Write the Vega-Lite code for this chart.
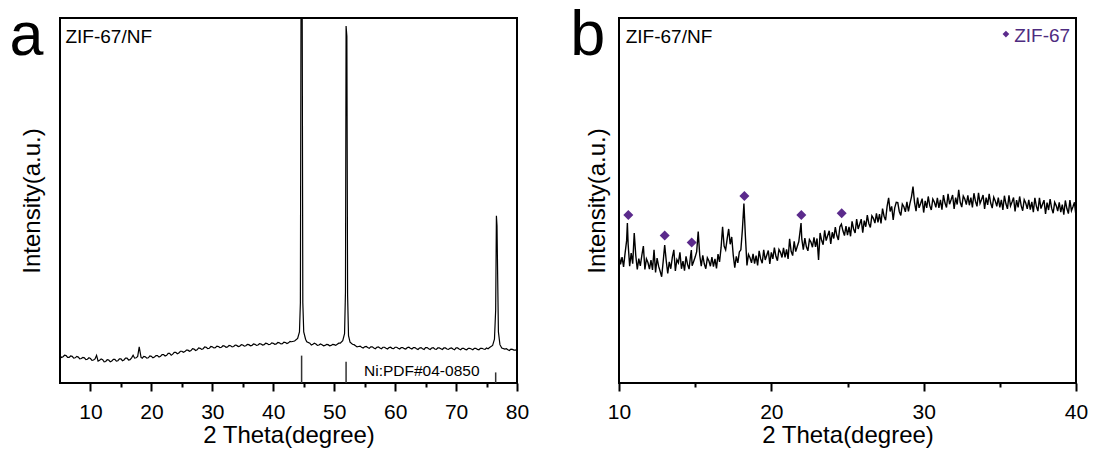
{
  "$schema": "https://vega.github.io/schema/vega-lite/v6.json",
  "background": "white",
  "padding": {"left": 8, "top": 3, "right": 5, "bottom": 5},
  "config": {
    "font": "Liberation Sans",
    "view": {"stroke": "black", "strokeWidth": 2},
    "axis": {"grid": false, "domain": false, "labelColor": "black", "titleColor": "black", "tickColor": "black", "titleFontWeight": "normal", "labelFlush": false, "labelOverlap": false}
  },
  "bounds": "flush",
  "spacing": 102,
  "datasets": {
    "xrdA": [
      {"theta": 5.0, "intensity": 7.4}, {"theta": 5.5, "intensity": 7.2}, {"theta": 6.0, "intensity": 7.5}, {"theta": 6.5, "intensity": 7.0},
      {"theta": 7.0, "intensity": 7.3}, {"theta": 7.5, "intensity": 6.9}, {"theta": 8.0, "intensity": 7.1}, {"theta": 8.5, "intensity": 6.7},
      {"theta": 9.0, "intensity": 6.9}, {"theta": 9.5, "intensity": 6.5}, {"theta": 10.0, "intensity": 6.7}, {"theta": 10.5, "intensity": 6.3},
      {"theta": 11.0, "intensity": 7.6}, {"theta": 11.5, "intensity": 6.2}, {"theta": 12.0, "intensity": 6.4}, {"theta": 12.5, "intensity": 5.9},
      {"theta": 13.0, "intensity": 6.3}, {"theta": 13.5, "intensity": 6.0}, {"theta": 14.0, "intensity": 6.5}, {"theta": 14.5, "intensity": 6.1},
      {"theta": 15.0, "intensity": 6.6}, {"theta": 15.5, "intensity": 6.3}, {"theta": 16.0, "intensity": 6.8}, {"theta": 16.5, "intensity": 6.4},
      {"theta": 17.0, "intensity": 7.6}, {"theta": 17.5, "intensity": 6.9}, {"theta": 18.0, "intensity": 9.9}, {"theta": 18.3, "intensity": 7.0},
      {"theta": 18.5, "intensity": 6.8}, {"theta": 19.0, "intensity": 7.2}, {"theta": 19.5, "intensity": 6.9}, {"theta": 20.0, "intensity": 7.3},
      {"theta": 20.5, "intensity": 7.1}, {"theta": 21.0, "intensity": 7.5}, {"theta": 21.5, "intensity": 7.3}, {"theta": 22.0, "intensity": 7.8},
      {"theta": 22.5, "intensity": 7.6}, {"theta": 23.0, "intensity": 8.1}, {"theta": 23.5, "intensity": 7.9}, {"theta": 24.0, "intensity": 8.4},
      {"theta": 24.5, "intensity": 8.2}, {"theta": 25.0, "intensity": 8.7}, {"theta": 25.5, "intensity": 8.6}, {"theta": 26.0, "intensity": 9.0},
      {"theta": 26.5, "intensity": 8.9}, {"theta": 27.0, "intensity": 9.3}, {"theta": 27.5, "intensity": 9.1}, {"theta": 28.0, "intensity": 9.5},
      {"theta": 28.5, "intensity": 9.4}, {"theta": 29.0, "intensity": 9.8}, {"theta": 29.5, "intensity": 9.5}, {"theta": 30.0, "intensity": 9.9},
      {"theta": 30.5, "intensity": 9.7}, {"theta": 31.0, "intensity": 10.0}, {"theta": 31.5, "intensity": 9.8}, {"theta": 32.0, "intensity": 10.1},
      {"theta": 32.5, "intensity": 9.9}, {"theta": 33.0, "intensity": 10.2}, {"theta": 33.5, "intensity": 10.0}, {"theta": 34.0, "intensity": 10.3},
      {"theta": 34.5, "intensity": 10.1}, {"theta": 35.0, "intensity": 10.4}, {"theta": 35.5, "intensity": 10.2}, {"theta": 36.0, "intensity": 10.5},
      {"theta": 36.5, "intensity": 10.3}, {"theta": 37.0, "intensity": 10.6}, {"theta": 37.5, "intensity": 10.4}, {"theta": 38.0, "intensity": 10.7},
      {"theta": 38.5, "intensity": 10.5}, {"theta": 39.0, "intensity": 10.8}, {"theta": 39.5, "intensity": 10.6}, {"theta": 40.0, "intensity": 10.9},
      {"theta": 40.5, "intensity": 10.7}, {"theta": 41.0, "intensity": 11.0}, {"theta": 41.5, "intensity": 10.8}, {"theta": 42.0, "intensity": 11.1},
      {"theta": 42.5, "intensity": 11.0}, {"theta": 43.0, "intensity": 11.3}, {"theta": 43.5, "intensity": 11.5}, {"theta": 44.0, "intensity": 12.2},
      {"theta": 44.3, "intensity": 14.0}, {"theta": 44.45, "intensity": 22.0}, {"theta": 44.55, "intensity": 100}, {"theta": 44.75, "intensity": 100},
      {"theta": 44.85, "intensity": 22.0}, {"theta": 45.0, "intensity": 14.0}, {"theta": 45.3, "intensity": 12.0}, {"theta": 45.5, "intensity": 11.3},
      {"theta": 46.0, "intensity": 10.9}, {"theta": 46.5, "intensity": 10.6}, {"theta": 47.0, "intensity": 10.7}, {"theta": 47.5, "intensity": 10.4},
      {"theta": 48.0, "intensity": 10.5}, {"theta": 48.5, "intensity": 10.3}, {"theta": 49.0, "intensity": 10.5}, {"theta": 49.5, "intensity": 10.3},
      {"theta": 50.0, "intensity": 10.5}, {"theta": 50.5, "intensity": 10.6}, {"theta": 51.0, "intensity": 10.9}, {"theta": 51.4, "intensity": 11.6},
      {"theta": 51.7, "intensity": 13.5}, {"theta": 51.85, "intensity": 25.0}, {"theta": 51.95, "intensity": 97.8}, {"theta": 52.08, "intensity": 95.0},
      {"theta": 52.2, "intensity": 24.0}, {"theta": 52.35, "intensity": 13.0}, {"theta": 52.6, "intensity": 11.2}, {"theta": 53.0, "intensity": 10.6},
      {"theta": 53.5, "intensity": 10.2}, {"theta": 54.0, "intensity": 10.0}, {"theta": 54.5, "intensity": 9.8}, {"theta": 55.0, "intensity": 9.9},
      {"theta": 55.5, "intensity": 9.7}, {"theta": 56.0, "intensity": 9.9}, {"theta": 56.5, "intensity": 9.6}, {"theta": 57.0, "intensity": 9.8},
      {"theta": 57.5, "intensity": 9.6}, {"theta": 58.0, "intensity": 9.8}, {"theta": 58.5, "intensity": 9.5}, {"theta": 59.0, "intensity": 9.7},
      {"theta": 59.5, "intensity": 9.5}, {"theta": 60.0, "intensity": 9.8}, {"theta": 60.5, "intensity": 9.5}, {"theta": 61.0, "intensity": 9.7},
      {"theta": 61.5, "intensity": 9.4}, {"theta": 62.0, "intensity": 9.7}, {"theta": 62.5, "intensity": 9.5}, {"theta": 63.0, "intensity": 9.7},
      {"theta": 63.5, "intensity": 9.4}, {"theta": 64.0, "intensity": 9.6}, {"theta": 64.5, "intensity": 9.4}, {"theta": 65.0, "intensity": 9.7},
      {"theta": 65.5, "intensity": 9.4}, {"theta": 66.0, "intensity": 9.6}, {"theta": 66.5, "intensity": 9.3}, {"theta": 67.0, "intensity": 9.6},
      {"theta": 67.5, "intensity": 9.4}, {"theta": 68.0, "intensity": 9.6}, {"theta": 68.5, "intensity": 9.3}, {"theta": 69.0, "intensity": 9.5},
      {"theta": 69.5, "intensity": 9.3}, {"theta": 70.0, "intensity": 9.6}, {"theta": 70.5, "intensity": 9.3}, {"theta": 71.0, "intensity": 9.5},
      {"theta": 71.5, "intensity": 9.2}, {"theta": 72.0, "intensity": 9.5}, {"theta": 72.5, "intensity": 9.3}, {"theta": 73.0, "intensity": 9.5},
      {"theta": 73.5, "intensity": 9.2}, {"theta": 74.0, "intensity": 9.5}, {"theta": 74.5, "intensity": 9.3}, {"theta": 75.0, "intensity": 9.6},
      {"theta": 75.5, "intensity": 9.7}, {"theta": 76.0, "intensity": 10.3}, {"theta": 76.3, "intensity": 12.0}, {"theta": 76.5, "intensity": 20.0},
      {"theta": 76.62, "intensity": 45.8}, {"theta": 76.72, "intensity": 43.0}, {"theta": 76.82, "intensity": 30.0}, {"theta": 76.95, "intensity": 14.0},
      {"theta": 77.2, "intensity": 10.5}, {"theta": 77.5, "intensity": 9.6}, {"theta": 78.0, "intensity": 9.3}, {"theta": 78.5, "intensity": 9.1},
      {"theta": 79.0, "intensity": 9.3}, {"theta": 79.5, "intensity": 9.0}, {"theta": 80.0, "intensity": 9.2},
      {"theta": 5.25, "intensity": 7.0}, {"theta": 5.75, "intensity": 7.6}, {"theta": 6.25, "intensity": 7.0}, {"theta": 6.75, "intensity": 7.4},
      {"theta": 7.25, "intensity": 6.8}, {"theta": 7.75, "intensity": 7.3}, {"theta": 8.25, "intensity": 6.6}, {"theta": 8.75, "intensity": 7.0},
      {"theta": 9.25, "intensity": 6.4}, {"theta": 9.75, "intensity": 6.9}, {"theta": 10.25, "intensity": 6.2}, {"theta": 10.75, "intensity": 6.6},
      {"theta": 11.25, "intensity": 6.0}, {"theta": 11.75, "intensity": 6.6}, {"theta": 12.25, "intensity": 5.8}, {"theta": 12.75, "intensity": 6.4},
      {"theta": 13.25, "intensity": 5.8}, {"theta": 13.75, "intensity": 6.5}, {"theta": 14.25, "intensity": 6.0}, {"theta": 14.75, "intensity": 6.6},
      {"theta": 15.25, "intensity": 6.1}, {"theta": 15.75, "intensity": 6.8}, {"theta": 16.25, "intensity": 6.3}, {"theta": 16.75, "intensity": 6.9},
      {"theta": 17.25, "intensity": 6.8}, {"theta": 17.75, "intensity": 7.3}, {"theta": 18.75, "intensity": 7.3}, {"theta": 19.25, "intensity": 6.8},
      {"theta": 19.75, "intensity": 7.4}, {"theta": 20.25, "intensity": 6.9}, {"theta": 20.75, "intensity": 7.5}, {"theta": 21.25, "intensity": 7.1},
      {"theta": 21.75, "intensity": 7.8}, {"theta": 22.25, "intensity": 7.4}, {"theta": 22.75, "intensity": 8.1}, {"theta": 23.25, "intensity": 7.6},
      {"theta": 23.75, "intensity": 8.4}, {"theta": 24.25, "intensity": 8.0}, {"theta": 24.75, "intensity": 8.7}, {"theta": 25.25, "intensity": 8.4},
      {"theta": 25.75, "intensity": 9.0}, {"theta": 26.25, "intensity": 8.7}, {"theta": 26.75, "intensity": 9.4}, {"theta": 27.25, "intensity": 8.9},
      {"theta": 27.75, "intensity": 9.6}, {"theta": 28.25, "intensity": 9.2}, {"theta": 28.75, "intensity": 9.9}, {"theta": 29.25, "intensity": 9.4},
      {"theta": 29.75, "intensity": 10.0}, {"theta": 30.25, "intensity": 9.6}, {"theta": 30.75, "intensity": 10.1}, {"theta": 31.25, "intensity": 9.7},
      {"theta": 31.75, "intensity": 10.2}, {"theta": 32.25, "intensity": 9.8}, {"theta": 32.75, "intensity": 10.3}, {"theta": 33.25, "intensity": 9.9},
      {"theta": 33.75, "intensity": 10.4}, {"theta": 34.25, "intensity": 10.0}, {"theta": 34.75, "intensity": 10.5}, {"theta": 35.25, "intensity": 10.1},
      {"theta": 35.75, "intensity": 10.6}, {"theta": 36.25, "intensity": 10.2}, {"theta": 36.75, "intensity": 10.7}, {"theta": 37.25, "intensity": 10.3},
      {"theta": 37.75, "intensity": 10.8}, {"theta": 38.25, "intensity": 10.4}, {"theta": 38.75, "intensity": 10.9}, {"theta": 39.25, "intensity": 10.5},
      {"theta": 39.75, "intensity": 11.0}, {"theta": 40.25, "intensity": 10.6}, {"theta": 40.75, "intensity": 11.1}, {"theta": 41.25, "intensity": 10.7},
      {"theta": 41.75, "intensity": 11.2}, {"theta": 42.25, "intensity": 10.8}, {"theta": 42.75, "intensity": 11.4},
      {"theta": 46.25, "intensity": 10.4}, {"theta": 46.75, "intensity": 10.9}, {"theta": 47.25, "intensity": 10.3}, {"theta": 47.75, "intensity": 10.7},
      {"theta": 48.25, "intensity": 10.2}, {"theta": 48.75, "intensity": 10.6}, {"theta": 49.25, "intensity": 10.2}, {"theta": 49.75, "intensity": 10.6},
      {"theta": 50.25, "intensity": 10.3}, {"theta": 50.75, "intensity": 10.9},
      {"theta": 53.25, "intensity": 10.5}, {"theta": 53.75, "intensity": 9.9}, {"theta": 54.25, "intensity": 10.1}, {"theta": 54.75, "intensity": 9.6},
      {"theta": 55.25, "intensity": 10.0}, {"theta": 55.75, "intensity": 9.5}, {"theta": 56.25, "intensity": 9.9}, {"theta": 56.75, "intensity": 9.4},
      {"theta": 57.25, "intensity": 9.9}, {"theta": 57.75, "intensity": 9.4}, {"theta": 58.25, "intensity": 9.8}, {"theta": 58.75, "intensity": 9.3},
      {"theta": 59.25, "intensity": 9.8}, {"theta": 59.75, "intensity": 9.4}, {"theta": 60.25, "intensity": 9.8}, {"theta": 60.75, "intensity": 9.3},
      {"theta": 61.25, "intensity": 9.7}, {"theta": 61.75, "intensity": 9.3}, {"theta": 62.25, "intensity": 9.8}, {"theta": 62.75, "intensity": 9.3},
      {"theta": 63.25, "intensity": 9.7}, {"theta": 63.75, "intensity": 9.2}, {"theta": 64.25, "intensity": 9.7}, {"theta": 64.75, "intensity": 9.2},
      {"theta": 65.25, "intensity": 9.7}, {"theta": 65.75, "intensity": 9.2}, {"theta": 66.25, "intensity": 9.7}, {"theta": 66.75, "intensity": 9.2},
      {"theta": 67.25, "intensity": 9.6}, {"theta": 67.75, "intensity": 9.2}, {"theta": 68.25, "intensity": 9.6}, {"theta": 68.75, "intensity": 9.2},
      {"theta": 69.25, "intensity": 9.6}, {"theta": 69.75, "intensity": 9.1}, {"theta": 70.25, "intensity": 9.6}, {"theta": 70.75, "intensity": 9.1},
      {"theta": 71.25, "intensity": 9.5}, {"theta": 71.75, "intensity": 9.1}, {"theta": 72.25, "intensity": 9.5}, {"theta": 72.75, "intensity": 9.1},
      {"theta": 73.25, "intensity": 9.5}, {"theta": 73.75, "intensity": 9.1}, {"theta": 74.25, "intensity": 9.5}, {"theta": 74.75, "intensity": 9.2},
      {"theta": 75.25, "intensity": 9.4},
      {"theta": 78.25, "intensity": 9.4}, {"theta": 78.75, "intensity": 8.9}, {"theta": 79.25, "intensity": 9.2}, {"theta": 79.75, "intensity": 9.0}
    ],
    "niRef": [
      {"theta": 44.65, "intensity": 7.5},
      {"theta": 51.95, "intensity": 5.8},
      {"theta": 76.5, "intensity": 2.9}
    ],
    "xrdB": [
      {"theta": 10.0, "intensity": 35.2}, {"theta": 10.1, "intensity": 32.5}, {"theta": 10.2, "intensity": 34.5}, {"theta": 10.3, "intensity": 31.8},
      {"theta": 10.4, "intensity": 35.6}, {"theta": 10.5, "intensity": 39.0}, {"theta": 10.55, "intensity": 43.8}, {"theta": 10.6, "intensity": 38.0},
      {"theta": 10.7, "intensity": 32.0}, {"theta": 10.8, "intensity": 35.6}, {"theta": 10.9, "intensity": 32.7}, {"theta": 11.0, "intensity": 41.1},
      {"theta": 11.1, "intensity": 35.0}, {"theta": 11.2, "intensity": 31.1}, {"theta": 11.3, "intensity": 34.1}, {"theta": 11.4, "intensity": 32.1},
      {"theta": 11.5, "intensity": 35.0}, {"theta": 11.6, "intensity": 37.5}, {"theta": 11.7, "intensity": 31.1}, {"theta": 11.8, "intensity": 34.0},
      {"theta": 11.9, "intensity": 33.0}, {"theta": 12.0, "intensity": 31.2}, {"theta": 12.1, "intensity": 33.7}, {"theta": 12.2, "intensity": 31.0},
      {"theta": 12.3, "intensity": 36.5}, {"theta": 12.4, "intensity": 30.3}, {"theta": 12.5, "intensity": 34.2}, {"theta": 12.6, "intensity": 32.0},
      {"theta": 12.7, "intensity": 30.6}, {"theta": 12.8, "intensity": 29.1}, {"theta": 12.9, "intensity": 33.3}, {"theta": 13.0, "intensity": 37.8},
      {"theta": 13.1, "intensity": 33.5}, {"theta": 13.2, "intensity": 30.0}, {"theta": 13.3, "intensity": 33.2}, {"theta": 13.4, "intensity": 31.3},
      {"theta": 13.5, "intensity": 34.4}, {"theta": 13.6, "intensity": 36.5}, {"theta": 13.7, "intensity": 30.7}, {"theta": 13.8, "intensity": 33.8},
      {"theta": 13.9, "intensity": 32.9}, {"theta": 14.0, "intensity": 35.8}, {"theta": 14.1, "intensity": 31.3}, {"theta": 14.2, "intensity": 33.4},
      {"theta": 14.3, "intensity": 30.8}, {"theta": 14.4, "intensity": 34.7}, {"theta": 14.5, "intensity": 32.5}, {"theta": 14.6, "intensity": 31.2},
      {"theta": 14.7, "intensity": 35.0}, {"theta": 14.75, "intensity": 36.4}, {"theta": 14.8, "intensity": 32.1}, {"theta": 14.9, "intensity": 33.3},
      {"theta": 15.0, "intensity": 34.5}, {"theta": 15.1, "intensity": 36.0}, {"theta": 15.2, "intensity": 41.5}, {"theta": 15.3, "intensity": 35.0},
      {"theta": 15.4, "intensity": 32.0}, {"theta": 15.5, "intensity": 35.0}, {"theta": 15.6, "intensity": 32.6}, {"theta": 15.7, "intensity": 31.3},
      {"theta": 15.8, "intensity": 34.3}, {"theta": 15.9, "intensity": 33.5}, {"theta": 16.0, "intensity": 32.0}, {"theta": 16.1, "intensity": 34.5},
      {"theta": 16.2, "intensity": 31.9}, {"theta": 16.3, "intensity": 34.0}, {"theta": 16.4, "intensity": 31.4}, {"theta": 16.5, "intensity": 35.3},
      {"theta": 16.6, "intensity": 33.2}, {"theta": 16.7, "intensity": 37.0}, {"theta": 16.8, "intensity": 42.8}, {"theta": 16.9, "intensity": 37.5},
      {"theta": 17.0, "intensity": 36.5}, {"theta": 17.1, "intensity": 39.5}, {"theta": 17.2, "intensity": 42.2}, {"theta": 17.3, "intensity": 38.0},
      {"theta": 17.4, "intensity": 40.0}, {"theta": 17.5, "intensity": 35.0}, {"theta": 17.6, "intensity": 31.6}, {"theta": 17.7, "intensity": 34.7},
      {"theta": 17.8, "intensity": 32.9}, {"theta": 17.9, "intensity": 35.9}, {"theta": 18.0, "intensity": 36.5}, {"theta": 18.1, "intensity": 42.0},
      {"theta": 18.2, "intensity": 49.2}, {"theta": 18.3, "intensity": 40.0}, {"theta": 18.4, "intensity": 32.2}, {"theta": 18.5, "intensity": 35.2},
      {"theta": 18.6, "intensity": 34.3}, {"theta": 18.7, "intensity": 32.9}, {"theta": 18.8, "intensity": 35.4}, {"theta": 18.9, "intensity": 32.7},
      {"theta": 19.0, "intensity": 34.9}, {"theta": 19.1, "intensity": 32.2}, {"theta": 19.2, "intensity": 36.2}, {"theta": 19.3, "intensity": 34.0},
      {"theta": 19.4, "intensity": 32.8}, {"theta": 19.5, "intensity": 36.5}, {"theta": 19.6, "intensity": 33.7}, {"theta": 19.7, "intensity": 35.0},
      {"theta": 19.8, "intensity": 36.3}, {"theta": 19.9, "intensity": 32.6}, {"theta": 20.0, "intensity": 35.8}, {"theta": 20.1, "intensity": 34.0},
      {"theta": 20.2, "intensity": 37.1}, {"theta": 20.3, "intensity": 34.7}, {"theta": 20.4, "intensity": 33.5}, {"theta": 20.5, "intensity": 36.6},
      {"theta": 20.6, "intensity": 35.8}, {"theta": 20.7, "intensity": 34.4}, {"theta": 20.8, "intensity": 37.0}, {"theta": 20.9, "intensity": 34.4},
      {"theta": 21.0, "intensity": 36.6}, {"theta": 21.1, "intensity": 34.0}, {"theta": 21.2, "intensity": 39.5}, {"theta": 21.3, "intensity": 36.1},
      {"theta": 21.4, "intensity": 34.9}, {"theta": 21.5, "intensity": 38.8}, {"theta": 21.6, "intensity": 36.0}, {"theta": 21.7, "intensity": 37.4},
      {"theta": 21.8, "intensity": 38.7}, {"theta": 21.9, "intensity": 42.0}, {"theta": 21.95, "intensity": 43.8}, {"theta": 22.0, "intensity": 39.5},
      {"theta": 22.1, "intensity": 36.5}, {"theta": 22.2, "intensity": 39.7}, {"theta": 22.3, "intensity": 37.3}, {"theta": 22.4, "intensity": 36.2},
      {"theta": 22.5, "intensity": 39.3}, {"theta": 22.6, "intensity": 38.6}, {"theta": 22.7, "intensity": 37.2}, {"theta": 22.8, "intensity": 39.9},
      {"theta": 22.9, "intensity": 37.3}, {"theta": 23.0, "intensity": 39.6}, {"theta": 23.1, "intensity": 33.7}, {"theta": 23.2, "intensity": 41.1},
      {"theta": 23.3, "intensity": 39.1}, {"theta": 23.4, "intensity": 37.9}, {"theta": 23.5, "intensity": 41.8}, {"theta": 23.6, "intensity": 39.0},
      {"theta": 23.7, "intensity": 40.4}, {"theta": 23.8, "intensity": 41.7}, {"theta": 23.9, "intensity": 38.1}, {"theta": 24.0, "intensity": 41.3},
      {"theta": 24.1, "intensity": 39.6}, {"theta": 24.2, "intensity": 42.7}, {"theta": 24.3, "intensity": 40.4}, {"theta": 24.4, "intensity": 39.2},
      {"theta": 24.5, "intensity": 42.8}, {"theta": 24.6, "intensity": 43.5}, {"theta": 24.7, "intensity": 41.7}, {"theta": 24.8, "intensity": 40.4},
      {"theta": 24.9, "intensity": 43.0}, {"theta": 25.0, "intensity": 40.5}, {"theta": 25.1, "intensity": 42.8}, {"theta": 25.2, "intensity": 40.2},
      {"theta": 25.3, "intensity": 44.3}, {"theta": 25.4, "intensity": 42.2}, {"theta": 25.5, "intensity": 41.1}, {"theta": 25.6, "intensity": 44.9},
      {"theta": 25.7, "intensity": 42.2}, {"theta": 25.8, "intensity": 43.5}, {"theta": 25.9, "intensity": 44.9}, {"theta": 26.0, "intensity": 41.2},
      {"theta": 26.1, "intensity": 44.5}, {"theta": 26.2, "intensity": 42.8}, {"theta": 26.3, "intensity": 46.0}, {"theta": 26.4, "intensity": 43.7},
      {"theta": 26.5, "intensity": 42.6}, {"theta": 26.6, "intensity": 45.8}, {"theta": 26.7, "intensity": 45.1}, {"theta": 26.8, "intensity": 43.8},
      {"theta": 26.9, "intensity": 46.5}, {"theta": 27.0, "intensity": 44.0}, {"theta": 27.1, "intensity": 46.3}, {"theta": 27.2, "intensity": 43.7},
      {"theta": 27.3, "intensity": 47.8}, {"theta": 27.4, "intensity": 45.7}, {"theta": 27.5, "intensity": 44.6}, {"theta": 27.6, "intensity": 48.4},
      {"theta": 27.7, "intensity": 50.7}, {"theta": 27.8, "intensity": 47.0}, {"theta": 27.9, "intensity": 48.4}, {"theta": 28.0, "intensity": 44.7},
      {"theta": 28.1, "intensity": 48.0}, {"theta": 28.2, "intensity": 49.5}, {"theta": 28.3, "intensity": 49.4}, {"theta": 28.4, "intensity": 47.0},
      {"theta": 28.5, "intensity": 45.9}, {"theta": 28.6, "intensity": 49.0}, {"theta": 28.7, "intensity": 48.3}, {"theta": 28.8, "intensity": 46.9},
      {"theta": 28.9, "intensity": 49.6}, {"theta": 29.0, "intensity": 47.0}, {"theta": 29.1, "intensity": 49.2}, {"theta": 29.2, "intensity": 51.0},
      {"theta": 29.3, "intensity": 53.8}, {"theta": 29.4, "intensity": 49.5}, {"theta": 29.5, "intensity": 47.1}, {"theta": 29.6, "intensity": 50.8},
      {"theta": 29.7, "intensity": 48.0}, {"theta": 29.8, "intensity": 49.2}, {"theta": 29.9, "intensity": 50.5}, {"theta": 30.0, "intensity": 46.7},
      {"theta": 30.1, "intensity": 49.9}, {"theta": 30.2, "intensity": 48.0}, {"theta": 30.3, "intensity": 51.1}, {"theta": 30.4, "intensity": 48.6},
      {"theta": 30.5, "intensity": 47.4}, {"theta": 30.6, "intensity": 50.4}, {"theta": 30.7, "intensity": 49.6}, {"theta": 30.8, "intensity": 48.1},
      {"theta": 30.9, "intensity": 50.7}, {"theta": 31.0, "intensity": 48.0}, {"theta": 31.1, "intensity": 50.2}, {"theta": 31.2, "intensity": 47.5},
      {"theta": 31.3, "intensity": 51.5}, {"theta": 31.4, "intensity": 49.3}, {"theta": 31.5, "intensity": 48.1}, {"theta": 31.6, "intensity": 51.8},
      {"theta": 31.7, "intensity": 49.0}, {"theta": 31.8, "intensity": 50.2}, {"theta": 31.9, "intensity": 51.5}, {"theta": 32.0, "intensity": 47.7},
      {"theta": 32.1, "intensity": 50.8}, {"theta": 32.2, "intensity": 48.9}, {"theta": 32.3, "intensity": 52.9}, {"theta": 32.4, "intensity": 49.5},
      {"theta": 32.5, "intensity": 48.2}, {"theta": 32.6, "intensity": 51.2}, {"theta": 32.7, "intensity": 50.4}, {"theta": 32.8, "intensity": 48.9},
      {"theta": 32.9, "intensity": 51.4}, {"theta": 33.0, "intensity": 48.7}, {"theta": 33.1, "intensity": 50.8}, {"theta": 33.2, "intensity": 48.1},
      {"theta": 33.3, "intensity": 52.0}, {"theta": 33.4, "intensity": 49.8}, {"theta": 33.5, "intensity": 48.4}, {"theta": 33.6, "intensity": 52.1},
      {"theta": 33.7, "intensity": 49.2}, {"theta": 33.8, "intensity": 50.3}, {"theta": 33.9, "intensity": 51.5}, {"theta": 34.0, "intensity": 47.7},
      {"theta": 34.1, "intensity": 50.8}, {"theta": 34.2, "intensity": 48.8}, {"theta": 34.3, "intensity": 51.8}, {"theta": 34.4, "intensity": 49.3},
      {"theta": 34.5, "intensity": 47.9}, {"theta": 34.6, "intensity": 50.9}, {"theta": 34.7, "intensity": 49.9}, {"theta": 34.8, "intensity": 48.4},
      {"theta": 34.9, "intensity": 50.8}, {"theta": 35.0, "intensity": 48.1}, {"theta": 35.1, "intensity": 50.2}, {"theta": 35.2, "intensity": 47.4},
      {"theta": 35.3, "intensity": 51.3}, {"theta": 35.4, "intensity": 49.1}, {"theta": 35.5, "intensity": 47.7}, {"theta": 35.6, "intensity": 51.4},
      {"theta": 35.7, "intensity": 48.5}, {"theta": 35.8, "intensity": 49.6}, {"theta": 35.9, "intensity": 50.8}, {"theta": 36.0, "intensity": 47.0},
      {"theta": 36.1, "intensity": 50.1}, {"theta": 36.2, "intensity": 48.1}, {"theta": 36.3, "intensity": 51.1}, {"theta": 36.4, "intensity": 48.6},
      {"theta": 36.5, "intensity": 47.2}, {"theta": 36.6, "intensity": 50.2}, {"theta": 36.7, "intensity": 49.3}, {"theta": 36.8, "intensity": 47.7},
      {"theta": 36.9, "intensity": 50.2}, {"theta": 37.0, "intensity": 47.5}, {"theta": 37.1, "intensity": 49.6}, {"theta": 37.2, "intensity": 46.8},
      {"theta": 37.3, "intensity": 50.7}, {"theta": 37.4, "intensity": 48.4}, {"theta": 37.5, "intensity": 47.1}, {"theta": 37.6, "intensity": 50.7},
      {"theta": 37.7, "intensity": 47.8}, {"theta": 37.8, "intensity": 49.0}, {"theta": 37.9, "intensity": 50.1}, {"theta": 38.0, "intensity": 46.3},
      {"theta": 38.1, "intensity": 49.4}, {"theta": 38.2, "intensity": 47.4}, {"theta": 38.3, "intensity": 50.4}, {"theta": 38.4, "intensity": 47.9},
      {"theta": 38.5, "intensity": 46.5}, {"theta": 38.6, "intensity": 49.5}, {"theta": 38.7, "intensity": 48.6}, {"theta": 38.8, "intensity": 47.1},
      {"theta": 38.9, "intensity": 49.5}, {"theta": 39.0, "intensity": 46.8}, {"theta": 39.1, "intensity": 48.9}, {"theta": 39.2, "intensity": 46.1},
      {"theta": 39.3, "intensity": 50.0}, {"theta": 39.4, "intensity": 47.8}, {"theta": 39.5, "intensity": 46.4}, {"theta": 39.6, "intensity": 50.1},
      {"theta": 39.7, "intensity": 47.2}, {"theta": 39.8, "intensity": 48.3}, {"theta": 39.9, "intensity": 49.5}, {"theta": 40.0, "intensity": 45.7}
    ],
    "zifPeaks": [
      {"theta": 10.61, "intensity": 46.0},
      {"theta": 13.0, "intensity": 40.4},
      {"theta": 14.77, "intensity": 38.5},
      {"theta": 18.23, "intensity": 51.2},
      {"theta": 21.97, "intensity": 46.0},
      {"theta": 24.62, "intensity": 46.5}
    ]
  },
  "hconcat": [
    {
      "width": 457,
      "height": 365,
      "resolve": {"axis": {"x": "independent", "y": "independent"}},
      "layer": [
        {
          "data": {"name": "xrdA"},
          "mark": {"type": "line", "color": "black", "strokeWidth": 1.2},
          "encoding": {
            "x": {"field": "theta", "type": "quantitative", "scale": {"domain": [5, 80], "nice": false, "zero": false},
              "axis": {"orient": "bottom", "values": [10, 20, 30, 40, 50, 60, 70, 80], "tickSize": 8, "tickWidth": 2, "labelFontSize": 21, "labelPadding": 10, "title": "2 Theta(degree)", "titleFontSize": 24, "titlePadding": 1}},
            "y": {"field": "intensity", "type": "quantitative", "scale": {"domain": [0, 100], "nice": false, "zero": false},
              "axis": {"title": "Intensity(a.u.)", "titleFontSize": 24, "labels": false, "ticks": false, "titlePadding": 16}}
          }
        },
        {
          "data": {"name": "niRef"},
          "mark": {"type": "rule", "color": "#333333", "strokeWidth": 1.5},
          "encoding": {
            "x": {"field": "theta", "type": "quantitative", "scale": {"domain": [5, 80], "nice": false, "zero": false},
              "axis": {"orient": "bottom", "values": [15, 25, 35, 45, 55, 65, 75], "tickSize": 4, "tickWidth": 2, "labels": false, "title": null}},
            "y": {"field": "intensity", "type": "quantitative", "scale": {"domain": [0, 100], "nice": false, "zero": false}, "axis": null},
            "y2": {"datum": 0}
          }
        },
        {
          "data": {"values": [{"label": "Ni:PDF#04-0850"}]},
          "mark": {"type": "text", "fontSize": 15.5, "align": "left", "baseline": "alphabetic", "color": "black"},
          "encoding": {
            "text": {"field": "label"},
            "x": {"datum": 54.9, "type": "quantitative", "scale": {"domain": [5, 80], "nice": false, "zero": false}, "axis": null},
            "y": {"datum": 2.0, "type": "quantitative", "scale": {"domain": [0, 100], "nice": false, "zero": false}, "axis": null}
          }
        },
        {
          "data": {"values": [{"label": "ZIF-67/NF"}]},
          "mark": {"type": "text", "fontSize": 19, "align": "left", "baseline": "alphabetic", "color": "black"},
          "encoding": {
            "text": {"field": "label"},
            "x": {"datum": 5.9, "type": "quantitative", "scale": {"domain": [5, 80], "nice": false, "zero": false}, "axis": null},
            "y": {"datum": 93.2, "type": "quantitative", "scale": {"domain": [0, 100], "nice": false, "zero": false}, "axis": null}
          }
        },
        {
          "data": {"values": [{"label": "a"}]},
          "mark": {"type": "text", "fontSize": 61, "align": "center", "baseline": "alphabetic", "color": "black"},
          "encoding": {
            "text": {"field": "label"},
            "x": {"datum": -0.5, "type": "quantitative", "scale": {"domain": [5, 80], "nice": false, "zero": false}, "axis": null},
            "y": {"datum": 89.9, "type": "quantitative", "scale": {"domain": [0, 100], "nice": false, "zero": false}, "axis": null}
          }
        }
      ]
    },
    {
      "width": 457,
      "height": 365,
      "resolve": {"axis": {"x": "independent", "y": "independent"}},
      "layer": [
        {
          "data": {"name": "xrdB"},
          "mark": {"type": "line", "color": "black", "strokeWidth": 1.4},
          "encoding": {
            "x": {"field": "theta", "type": "quantitative", "scale": {"domain": [10, 40], "nice": false, "zero": false},
              "axis": {"orient": "bottom", "values": [10, 20, 30, 40], "tickSize": 8, "tickWidth": 2, "labelFontSize": 21, "labelPadding": 10, "title": "2 Theta(degree)", "titleFontSize": 24, "titlePadding": 1}},
            "y": {"field": "intensity", "type": "quantitative", "scale": {"domain": [0, 100], "nice": false, "zero": false},
              "axis": {"title": "Intensity(a.u.)", "titleFontSize": 24, "labels": false, "ticks": false, "titlePadding": 10}}
          }
        },
        {
          "data": {"name": "zifPeaks"},
          "mark": {"type": "point", "shape": "diamond", "filled": true, "size": 100, "opacity": 1, "color": "#5b2a8c"},
          "encoding": {
            "x": {"field": "theta", "type": "quantitative", "scale": {"domain": [10, 40], "nice": false, "zero": false},
              "axis": {"orient": "bottom", "values": [15, 25, 35], "tickSize": 4, "tickWidth": 2, "labels": false, "title": null}},
            "y": {"field": "intensity", "type": "quantitative", "scale": {"domain": [0, 100], "nice": false, "zero": false}, "axis": null}
          }
        },
        {
          "data": {"values": [{"label": "ZIF-67"}]},
          "mark": {"type": "point", "shape": "diamond", "filled": true, "size": 45, "opacity": 1, "color": "#5b2a8c"},
          "encoding": {
            "x": {"datum": 35.4, "type": "quantitative", "scale": {"domain": [10, 40], "nice": false, "zero": false}, "axis": null},
            "y": {"datum": 95.6, "type": "quantitative", "scale": {"domain": [0, 100], "nice": false, "zero": false}, "axis": null}
          }
        },
        {
          "data": {"values": [{"label": "ZIF-67"}]},
          "mark": {"type": "text", "fontSize": 19, "align": "left", "baseline": "alphabetic", "color": "#4e2c80"},
          "encoding": {
            "text": {"field": "label"},
            "x": {"datum": 35.94, "type": "quantitative", "scale": {"domain": [10, 40], "nice": false, "zero": false}, "axis": null},
            "y": {"datum": 93.4, "type": "quantitative", "scale": {"domain": [0, 100], "nice": false, "zero": false}, "axis": null}
          }
        },
        {
          "data": {"values": [{"label": "ZIF-67/NF"}]},
          "mark": {"type": "text", "fontSize": 19, "align": "left", "baseline": "alphabetic", "color": "black"},
          "encoding": {
            "text": {"field": "label"},
            "x": {"datum": 10.44, "type": "quantitative", "scale": {"domain": [10, 40], "nice": false, "zero": false}, "axis": null},
            "y": {"datum": 93.2, "type": "quantitative", "scale": {"domain": [0, 100], "nice": false, "zero": false}, "axis": null}
          }
        },
        {
          "data": {"values": [{"label": "b"}]},
          "mark": {"type": "text", "fontSize": 63, "align": "center", "baseline": "alphabetic", "color": "black"},
          "encoding": {
            "text": {"field": "label"},
            "x": {"datum": 7.95, "type": "quantitative", "scale": {"domain": [10, 40], "nice": false, "zero": false}, "axis": null},
            "y": {"datum": 89.9, "type": "quantitative", "scale": {"domain": [0, 100], "nice": false, "zero": false}, "axis": null}
          }
        }
      ]
    }
  ]
}
